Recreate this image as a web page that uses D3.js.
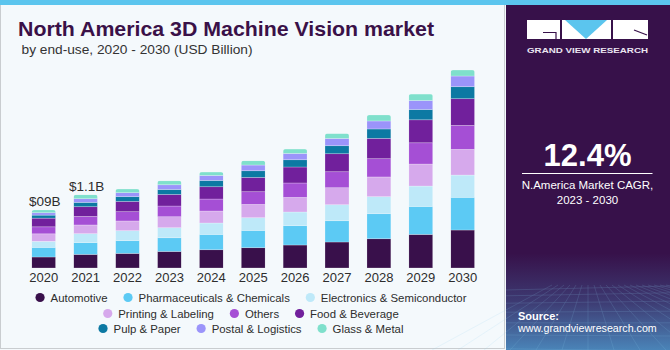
<!DOCTYPE html>
<html>
<head>
<meta charset="utf-8">
<script src="https://cdn.jsdelivr.net/npm/d3@7"></script>
<style>
  body { margin: 0; background: #fff; }
  svg { display: block; font-family: "Liberation Sans", Arial, sans-serif; }
</style>
</head>
<body>
<div id="chart"></div>
<script>
// values in USD Billion
var years = ["2020","2021","2022","2023","2024","2025","2026","2027","2028","2029","2030"]
var categories = ["Automotive","Pharmaceuticals & Chemicals","Electronics & Semiconductor",
  "Printing & Labeling","Others","Food & Beverage","Pulp & Paper","Postal & Logistics","Glass & Metal"]
var colors = ["#39104b","#5ccaf4","#bee9f9","#d6a9ec","#a54fd5","#71209c","#0c79a3","#9b94fa","#7fe0cc"]

var automotive  = [0.168,0.208,0.223,0.253,0.279,0.310,0.351,0.397,0.447,0.513,0.580]
var pharma      = [0.147,0.179,0.194,0.209,0.234,0.264,0.295,0.325,0.382,0.427,0.499]
var electronics = [0.092,0.137,0.153,0.153,0.174,0.194,0.209,0.244,0.260,0.311,0.340]
var printing    = [0.115,0.133,0.148,0.168,0.183,0.203,0.223,0.260,0.301,0.336,0.392]
var others      = [0.107,0.131,0.142,0.163,0.183,0.194,0.220,0.244,0.279,0.325,0.366]
var food        = [0.132,0.148,0.157,0.177,0.188,0.218,0.244,0.275,0.310,0.351,0.408]
var pulp        = [0.046,0.066,0.072,0.076,0.096,0.102,0.111,0.122,0.144,0.157,0.183]
var postal      = [0.037,0.056,0.061,0.072,0.076,0.087,0.096,0.111,0.122,0.137,0.163]
var glass       = [0.043,0.061,0.056,0.061,0.052,0.066,0.067,0.076,0.092,0.098,0.092]
var valueLabels = ["$09B","$1.1B"]

var series = [automotive,pharma,electronics,printing,others,food,pulp,postal,glass]

var width = 670
var height = 350

var svg = d3.select("#chart").append("svg")
  .attr("width",width)
  .attr("height",height)

// backgrounds and frame
svg.append("rect").attr("x",0).attr("y",0).attr("width",width).attr("height",height).attr("fill","#f4f9fc")
svg.append("rect").attr("x",0.5).attr("y",4.5).attr("width",504).attr("height",344)
  .attr("fill","none").attr("stroke","#c9cdd0")
svg.append("rect").attr("x",0).attr("y",0).attr("width",width).attr("height",5).attr("fill","#5bc5ee")

// table for the stack
var table = years.map(function(y,i){
  var row = {year:y}
  categories.forEach(function(c,j){ row[c] = series[j][i] })
  return row
})
var stacked = d3.stack().keys(categories)(table)

var x = d3.scaleBand()
  .domain(years)
  .range([22.75,483.65])
  .paddingInner(0.427)
  .paddingOuter(0.2135)

var y = d3.scaleLinear()
  .domain([0,3.2])
  .range([268,268-3.2*65.5])

var defs = svg.append("defs")
years.forEach(function(yr,i){
  var top = stacked[stacked.length-1][i][1]
  defs.append("clipPath").attr("id","clip"+yr)
    .append("rect")
    .attr("x",x(yr)).attr("y",y(top))
    .attr("width",x.bandwidth()).attr("height",y(0)-y(top)+3)
    .attr("rx",2.5)
})

var barG = svg.append("g")
years.forEach(function(yr,i){
  var g = barG.append("g").attr("clip-path","url(#clip"+yr+")")
  stacked.forEach(function(layer,j){
    g.append("rect")
      .attr("x",x(yr))
      .attr("y",y(layer[i][1]))
      .attr("width",x.bandwidth())
      .attr("height",y(layer[i][0])-y(layer[i][1]))
      .attr("fill",colors[j])
      .attr("stroke","rgba(255,255,255,0.35)")
      .attr("stroke-width",0.7)
  })
})

// x axis labels
svg.append("g")
  .attr("transform","translate(0,268)")
  .call(d3.axisBottom(x).tickSize(0).tickPadding(5))
  .call(function(g){ g.select(".domain").remove() })
  .selectAll("text")
  .attr("font-family","Liberation Sans, Arial, sans-serif")
  .attr("font-size",13)
  .attr("fill","#2d2d2d")

// value labels
valueLabels.forEach(function(t,i){
  var top = stacked[stacked.length-1][i][1]
  svg.append("text")
    .attr("x",x(years[i])+x.bandwidth()/2+1)
    .attr("y",y(top)-3.5)
    .attr("text-anchor","middle")
    .attr("font-size",13.5)
    .attr("fill","#2d2d2d")
    .text(t)
})

// titles
svg.append("text")
  .attr("x",18).attr("y",35.5)
  .attr("font-size",21).attr("font-weight","bold")
  .attr("fill","#3a1148")
  .attr("textLength",416).attr("lengthAdjust","spacingAndGlyphs")
  .text("North America 3D Machine Vision market")

svg.append("text")
  .attr("x",21.5).attr("y",54)
  .attr("font-size",13.5)
  .attr("fill","#333")
  .attr("textLength",231).attr("lengthAdjust","spacingAndGlyphs")
  .text("by end-use, 2020 - 2030 (USD Billion)")

// legend, three centered rows
var legendRows = [[0,1,2],[3,4,5],[6,7,8]]
var legendY = [297.5,313.5,328.5]
var legendCenter = 251
legendRows.forEach(function(row,r){
  var lg = svg.append("g")
  var pos = 0
  row.forEach(function(ci,k){
    if(k>0) pos += 16
    lg.append("circle").attr("cx",pos+4.5).attr("cy",legendY[r]).attr("r",4.6).attr("fill",colors[ci])
    var t = lg.append("text")
      .attr("x",pos+15).attr("y",legendY[r]+4.2)
      .attr("font-size",11.4).attr("fill","#2d2d2d")
      .text(categories[ci])
    pos += 15 + t.node().getComputedTextLength()
  })
  lg.attr("transform","translate("+(legendCenter-pos/2)+",0)")
})

// right panel
var grad = defs.append("linearGradient").attr("id","panelGrad")
  .attr("x1",0).attr("y1",0).attr("x2",0).attr("y2",1)
grad.append("stop").attr("offset","0%").attr("stop-color","#37114a")
grad.append("stop").attr("offset","72%").attr("stop-color","#37114a")
grad.append("stop").attr("offset","86%").attr("stop-color","#3d3a72")
grad.append("stop").attr("offset","100%").attr("stop-color","#4a84b8")

var px0 = 506
svg.append("rect").attr("x",px0).attr("y",5).attr("width",width-px0).attr("height",345)
  .attr("fill","url(#panelGrad)")

// faint grid at the bottom of the panel
var grid = svg.append("g").attr("stroke","#8fd0f0").attr("stroke-width",0.5).attr("opacity",0.3)
d3.range(0,9).forEach(function(i){
  var yy = 290 + i*i*0.8 + i*5
  grid.append("line").attr("x1",px0).attr("x2",width).attr("y1",yy).attr("y2",yy-4+i)
})
d3.range(-6,14).forEach(function(i){
  grid.append("line").attr("x1",588+i*6).attr("y1",285).attr("x2",588+i*26).attr("y2",350)
})

// logo
var logo = svg.append("g")
logo.append("rect").attr("x",527).attr("y",20).attr("width",33).attr("height",19).attr("fill","#fff")
logo.append("path").attr("d","M543,32.5 H556 V39").attr("stroke","#37114a").attr("stroke-width",1.2).attr("fill","none")
logo.append("rect").attr("x",562).attr("y",20).attr("width",49).attr("height",19).attr("fill","#fff")
logo.append("path").attr("d","M565,20 L607,20 L586,39 Z").attr("fill","#5bc5ee")
logo.append("rect").attr("x",613).attr("y",20).attr("width",35).attr("height",19).attr("fill","#fff")
logo.append("path").attr("d","M634,30 L647,35").attr("stroke","#37114a").attr("stroke-width",1.2)
svg.append("text")
  .attr("x",587.5).attr("y",53.3).attr("text-anchor","middle")
  .attr("font-size",8).attr("font-weight","bold").attr("fill","#ece6f2")
  .attr("textLength",121).attr("lengthAdjust","spacingAndGlyphs")
  .text("GRAND VIEW RESEARCH")

svg.append("text")
  .attr("x",587.5).attr("y",165.5).attr("text-anchor","middle")
  .attr("font-size",31).attr("font-weight","bold").attr("fill","#fff")
  .text("12.4%")
svg.append("line").attr("x1",522).attr("x2",652.5).attr("y1",173.5).attr("y2",173.5)
  .attr("stroke","#fff").attr("stroke-width",1)
svg.append("text")
  .attr("x",587.5).attr("y",189).attr("text-anchor","middle")
  .attr("font-size",11.5).attr("fill","#fff")
  .text("N.America Market CAGR,")
svg.append("text")
  .attr("x",587.5).attr("y",204).attr("text-anchor","middle")
  .attr("font-size",11.5).attr("fill","#fff")
  .text("2023 - 2030")

svg.append("text")
  .attr("x",518).attr("y",319.5)
  .attr("font-size",11).attr("font-weight","bold").attr("fill","#fff")
  .text("Source:")
svg.append("text")
  .attr("x",518).attr("y",332)
  .attr("font-size",11).attr("fill","#fff")
  .attr("textLength",138.7).attr("lengthAdjust","spacingAndGlyphs")
  .text("www.grandviewresearch.com")
</script>
</body>
</html>
